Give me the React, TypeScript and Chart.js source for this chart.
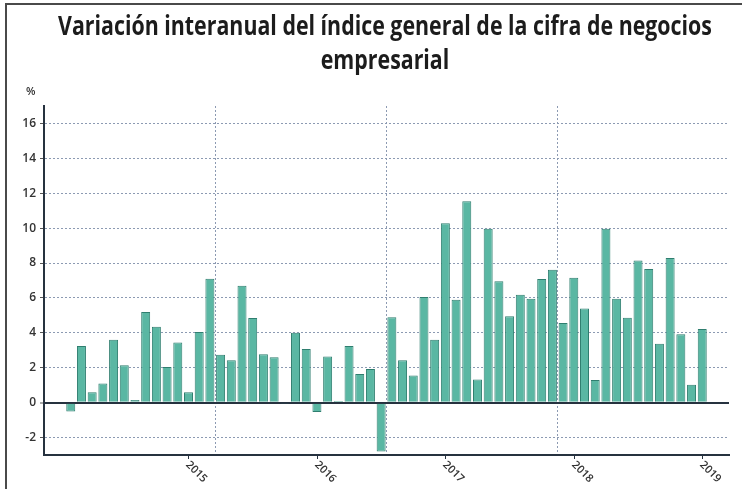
import React, { useEffect, useRef } from 'react';
import { Chart, registerables } from 'chart.js';

Chart.register(...registerables);

const TITLE_LINES = ['Variación interanual del índice general de la cifra de negocios', 'empresarial'];
const UNIT_LABEL = '%';

// Monthly categories, December 2013 to March 2019
const START_YEAR = 2013;
const START_MONTH = 12;
const MONTH_COUNT = 64;
const MONTHS: string[] = [];
for (let i = 0; i < MONTH_COUNT; i++) {
  const m0 = START_MONTH - 1 + i;
  const y = START_YEAR + Math.floor(m0 / 12);
  const m = (m0 % 12) + 1;
  MONTHS.push(`${y}-${m < 10 ? '0' + m : m}`);
}

const VALUES: (number | null)[] = [
  null, null, -0.5, 3.25, 0.6, 1.1, 3.6, 2.15, 0.15, 5.2, 4.35, 2.05, 3.45, 0.6, 4.05, 7.1,
  2.75, 2.43, 6.7, 4.85, 2.77, 2.6, -0.05, 4.0, 3.08, -0.54, 2.64, 0.1, 3.25, 1.64, 1.93, -2.8,
  4.9, 2.43, 1.55, 6.06, 3.6, 10.28, 5.9, 11.54, 1.32, 9.97, 6.96, 4.95, 6.19, 5.95, 7.09, 7.62,
  4.57, 7.16, 5.39, 1.3, 9.97, 5.96, 4.87, 8.14, 7.66, 3.38, 8.29, 3.92, 1.03, 4.22, null, null,
];

const YEAR_TICK_CATEGORIES = ['2015-01', '2016-01', '2017-01', '2018-01', '2019-01'];
const YEAR_TICK_LABELS = ['2015', '2016', '2017', '2018', '2019'];

const Y_MIN = -3;
const Y_MAX = 17;
const Y_TICKS = [-2, 0, 2, 4, 6, 8, 10, 12, 14, 16];
const V_GRID_EVERY = 16;

const BAR_FILL = '#5ab7a3';
const BAR_BORDER = '#2f7e6f';
const GRID_COLOR = '#8c9ab2';
const AXIS_COLOR = '#26323f';
const TEXT_COLOR = '#333333';

export default function App() {
  const canvasRef = useRef<HTMLCanvasElement | null>(null);
  const titleRef = useRef<HTMLDivElement | null>(null);

  useEffect(() => {
    document.body.style.margin = '0';
    const box = titleRef.current;
    if (box) {
      const spans = Array.from(box.querySelectorAll('span.tl')) as HTMLSpanElement[];
      const w = spans[0].offsetWidth;
      const s = w > 0 ? 654 / w : 1;
      spans.forEach((sp) => {
        sp.style.transform = `translateX(-50%) scaleX(${s})`;
      });
    }

    const yearLabelsPlugin = {
      id: 'yearLabels',
      afterDraw(chart: any) {
        const { ctx, chartArea } = chart;
        const x = chart.scales.x;
        ctx.save();
        ctx.font = '600 11px "Open Sans"';
        ctx.fillStyle = TEXT_COLOR;
        ctx.strokeStyle = AXIS_COLOR;
        ctx.lineWidth = 1;
        YEAR_TICK_CATEGORIES.forEach((cat, i) => {
          const idx = MONTHS.indexOf(cat);
          if (idx < 0) return;
          const px = Math.round(x.getPixelForValue(idx)) + 0.5;
          ctx.beginPath();
          ctx.moveTo(px, chartArea.bottom);
          ctx.lineTo(px, chartArea.bottom + 4);
          ctx.stroke();
          ctx.save();
          ctx.translate(px - 1, chartArea.bottom + 8);
          ctx.rotate(Math.PI / 4);
          ctx.textAlign = 'left';
          ctx.textBaseline = 'middle';
          ctx.fillText(YEAR_TICK_LABELS[i], 0, 0);
          ctx.restore();
        });
        ctx.restore();
      },
    };

    const chart = new Chart(canvasRef.current as HTMLCanvasElement, {
      type: 'bar',
      data: {
        labels: MONTHS,
        datasets: [
          {
            data: VALUES,
            backgroundColor: BAR_FILL,
            borderColor: BAR_BORDER,
            borderWidth: 1,
            barPercentage: 0.84,
            categoryPercentage: 1,
          },
        ],
      },
      options: {
        responsive: false,
        animation: false,
        layout: { padding: { left: 0, top: 106, right: 13, bottom: 34 } },
        plugins: {
          legend: { display: false },
          title: { display: false },
          tooltip: { enabled: false },
        },
        scales: {
          x: {
            type: 'category',
            offset: true,
            ticks: { display: false, autoSkip: false },
            grid: {
              offset: true,
              drawTicks: false,
              color: (c: any) => (c.index > 0 && c.index % V_GRID_EVERY === 0 ? GRID_COLOR : 'rgba(0,0,0,0)'),
              lineWidth: 1,
            },
            border: {
              display: true,
              color: AXIS_COLOR,
              width: 2,
              dash: (c: any) => (c.type === 'scale' ? [] : [2, 2]),
            },
            afterFit: (s: any) => {
              s.height = 0;
            },
          },
          y: {
            min: Y_MIN,
            max: Y_MAX,
            afterBuildTicks: (s: any) => {
              s.ticks = Y_TICKS.map((v) => ({ value: v }));
            },
            ticks: {
              color: TEXT_COLOR,
              padding: 4,
              font: { family: '"Open Sans"', size: 12, weight: 600 },
            },
            grid: {
              color: (c: any) => (c.tick && c.tick.value === 0 ? AXIS_COLOR : GRID_COLOR),
              lineWidth: (c: any) => (c.tick && c.tick.value === 0 ? 2 : 1),
              tickColor: '#555555',
              tickLength: 4,
              tickWidth: 1,
            },
            border: {
              display: true,
              color: AXIS_COLOR,
              width: 2,
              dash: (c: any) => (c.type === 'scale' || (c.tick && c.tick.value === 0) ? [] : [2, 2]),
            },
            afterFit: (s: any) => {
              s.width = 44;
            },
          },
        },
      },
      plugins: [yearLabelsPlugin],
    } as any);

    return () => {
      chart.destroy();
    };
  }, []);

  return (
    <div style={{ position: 'absolute', left: 0, top: 0, width: 742, height: 489, background: '#ffffff', overflow: 'hidden' }}>
      <div
        style={{
          position: 'absolute',
          left: 5,
          top: 3,
          width: 760,
          height: 500,
          borderTop: '2px solid #4a4a4a',
          borderLeft: '2px solid #4a4a4a',
        }}
      />
      <canvas ref={canvasRef} width={742} height={489} style={{ position: 'absolute', left: 0, top: 0 }} />
      <div
        ref={titleRef}
        style={{
          position: 'absolute',
          left: 0,
          top: 8,
          width: 742,
          height: 70,
          fontFamily: '"Open Sans", sans-serif',
          fontWeight: 700,
          fontSize: 26,
          lineHeight: '34px',
          color: '#1c1c1c',
          whiteSpace: 'nowrap',
        }}
      >
        {TITLE_LINES.map((t, i) => (
          <span
            key={i}
            className="tl"
            style={{
              position: 'absolute',
              left: 385,
              top: i * 34,
              display: 'inline-block',
              transformOrigin: 'center',
            }}
          >
            {t}
          </span>
        ))}
      </div>
      <div
        style={{
          position: 'absolute',
          left: 26,
          top: 83,
          fontFamily: '"Open Sans", sans-serif',
          fontWeight: 600,
          fontSize: 11,
          color: TEXT_COLOR,
        }}
      >
        {UNIT_LABEL}
      </div>
    </div>
  );
}
